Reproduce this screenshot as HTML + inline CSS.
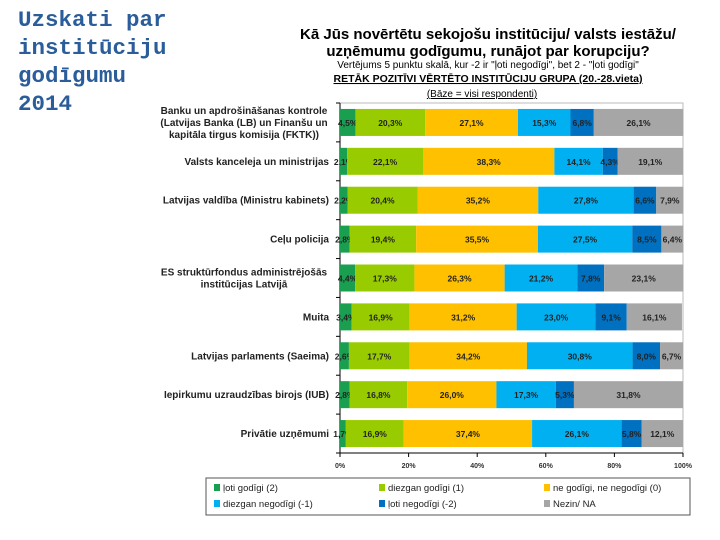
<!DOCTYPE html>
<html><head><meta charset="utf-8"><style>
body{margin:0;width:720px;height:540px;background:#fff;overflow:hidden;position:relative;font-family:"Liberation Sans",sans-serif}
#title{position:absolute;left:18px;top:6px;font-family:"Liberation Mono",monospace;font-weight:bold;font-size:22.5px;line-height:28px;color:#2a5d9a}
</style></head><body>
<div id="title">Uzskati par<br>institūciju<br>godīgumu<br>2014</div>
<svg id="chart" width="720" height="540" style="position:absolute;left:0;top:0">
<g text-anchor="middle" fill="#000">
<text x="488" y="39" font-size="15" font-weight="bold">Kā Jūs novērtētu sekojošu institūciju/ valsts iestāžu/</text>
<text x="488" y="56" font-size="15" font-weight="bold">uzņēmumu godīgumu, runājot par korupciju?</text>
<text x="488" y="68" font-size="10">Vertējums 5 punktu skalā, kur -2 ir "ļoti negodīgi", bet 2 - "ļoti godīgi"</text>
<text x="488" y="82" font-size="10.5" font-weight="bold" text-decoration="underline">RETĀK POZITĪVI VĒRTĒTO INSTITŪCIJU GRUPA (20.-28.vieta)</text>
<text x="482" y="97" font-size="10" text-decoration="underline">(Bāze = visi respondenti)</text>
</g>
<g id="plot"></g>
<g id="legend"></g>
</svg>
<script>
const categories=[["Banku un apdrošināšanas kontrole","(Latvijas Banka (LB) un Finanšu un","kapitāla tirgus komisija (FKTK))"],["Valsts kanceleja un ministrijas"],["Latvijas valdība (Ministru kabinets)"],["Ceļu policija"],["ES struktūrfondus administrējošās","institūcijas Latvijā"],["Muita"],["Latvijas parlaments (Saeima)"],["Iepirkumu uzraudzības birojs (IUB)"],["Privātie uzņēmumi"]];
const veryHonest=[4.5,2.1,2.2,2.8,4.4,3.4,2.6,2.8,1.7];
const ratherHonest=[20.3,22.1,20.4,19.4,17.3,16.9,17.7,16.8,16.9];
const neutral=[27.1,38.3,35.2,35.5,26.3,31.2,34.2,26.0,37.4];
const ratherDishonest=[15.3,14.1,27.8,27.5,21.2,23.0,30.8,17.3,26.1];
const veryDishonest=[6.8,4.3,6.6,8.5,7.8,9.1,8.0,5.3,5.8];
const dontKnow=[26.1,19.1,7.9,6.4,23.1,16.1,6.7,31.8,12.1];
const seriesNames=["ļoti godīgi (2)","diezgan godīgi (1)","ne godīgi, ne negodīgi (0)","diezgan negodīgi (-1)","ļoti negodīgi (-2)","Nezin/ NA"];
const ticks=[0,20,40,60,80,100];
const series=[veryHonest,ratherHonest,neutral,ratherDishonest,veryDishonest,dontKnow];
const colors=["#1a9e50","#99cc00","#ffc000","#00b0f0","#0070c0","#a6a6a6"];
const NS="http://www.w3.org/2000/svg";
const X0=340,X1=683,TOP=103,BOT=453;
const n=categories.length,band=(BOT-TOP)/n,bh=27;
const xs=v=>X0+(X1-X0)*v/100;
const yc=i=>TOP+band*(i+0.5);
function mk(tag,attrs,parent){const e=document.createElementNS(NS,tag);for(const k in attrs)e.setAttribute(k,attrs[k]);parent.appendChild(e);return e;}
const plot=document.getElementById('plot');
const frame=mk('rect',{x:X0,y:TOP,width:X1-X0,height:BOT-TOP,fill:'none',stroke:'#bbb'},plot);


const ax=mk('line',{x1:X0,y1:TOP,x2:X0,y2:BOT,stroke:'#000'},plot);


const bx=mk('line',{x1:X0,y1:BOT,x2:X1,y2:BOT,stroke:'#000'},plot);


for(let i=0;i<=n;i++){mk('line',{x1:X0-4,x2:X0,y1:TOP+band*i,y2:TOP+band*i,stroke:'#000'},plot);}
ticks.forEach(t=>{
 mk('line',{x1:xs(t),x2:xs(t),y1:BOT,y2:BOT+4,stroke:'#000'},plot);
 const tl=mk('text',{x:xs(t),y:BOT+15,'font-size':7,'text-anchor':'middle','font-weight':'bold',fill:'#333'},plot);
 tl.textContent=t+'%';
 
 
});
categories.forEach((lines,i)=>{
 const lx=lines.length>1?244:329;
 const lab=mk('text',{x:lx,y:yc(i)-(lines.length-1)*6+3.5,'font-size':10,'text-anchor':lines.length>1?'middle':'end','font-weight':'bold',fill:'#222'},plot);
 
 
 lines.forEach((l,j)=>{const ts=mk('tspan',{x:lx,dy:j?12:0},lab);ts.textContent=l;});
 let acc=0;
 series.forEach((s,k)=>{
  const v=s[i];
  const r=mk('rect',{x:xs(acc),y:yc(i)-bh/2,width:xs(acc+v)-xs(acc),height:bh,fill:colors[k]},plot);
  
  
  const vt=mk('text',{x:xs(acc+v/2),y:yc(i)+3.5,'font-size':8.5,'font-weight':'bold','text-anchor':'middle',fill:'#222'},plot);
  vt.textContent=v.toFixed(1).replace('.',',')+'%';
  
  
  acc+=v;
 });
});
const lg=document.getElementById('legend');
mk('rect',{x:206,y:478,width:484,height:37,fill:'#fff',stroke:'#555'},lg);
seriesNames.forEach((nm,k)=>{
 const cx=214+(k%3)*165,cy=490+Math.floor(k/3)*16;
 const sw=mk('rect',{x:cx,y:cy-6,width:6,height:7,fill:colors[k]},lg);
 
 
 const t=mk('text',{x:cx+9,y:cy+1,'font-size':9.5,fill:'#222'},lg);
 t.textContent=nm;
 
 
});
</script>
</body></html>
